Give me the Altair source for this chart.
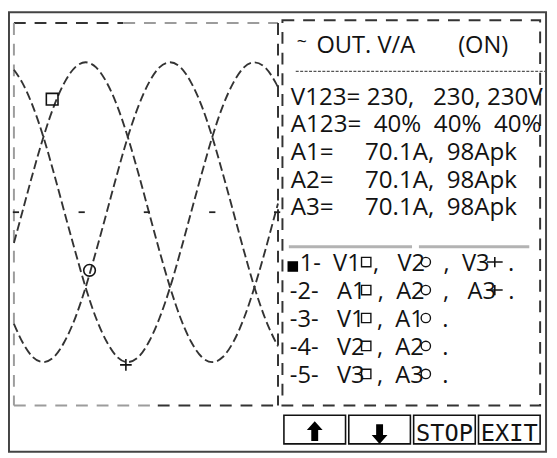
import altair as alt
import pandas as pd

# ---------------- data read from the screen ----------------
# three-phase output waveform: time (ms) and value (V) of each trace
t_ms = [-0.66, 0.0, 0.83, 1.67, 2.5, 3.33, 4.17, 5.0, 5.83, 6.67, 7.5, 8.33, 9.17, 10.0,
        10.83, 11.67, 12.5, 13.33, 14.17, 15.0, 15.83, 16.67, 17.5, 18.33, 19.17, 20.0, 20.19]
v1 = [-67, 0, 84, 163, 230, 281, 314, 325, 314, 281, 230, 163, 84, 0,
      -84, -163, -230, -281, -314, -325, -314, -281, -230, -163, -84, 0, 19]
v2 = [-242, -281, -314, -325, -314, -281, -230, -163, -84, 0, 84, 163, 230, 281,
      314, 325, 314, 281, 230, 163, 84, 0, -84, -163, -230, -281, -291]
v3 = [309, 281, 230, 163, 84, 0, -84, -163, -230, -281, -314, -325, -314, -281,
      -230, -163, -84, 0, 84, 163, 230, 281, 314, 325, 314, 281, 271]
phase_names = ["V1", "V2", "V3"]

# cursor markers on the traces
marker_phase = ["V1", "V2", "V3"]
marker_t = [2.36, 5.31, 8.18]
marker_v = [245, -126, -331]

# time-division ticks on the zero line
div_t = [-0.5, 4.69, 9.84, 15.0, 20.12]

# info panel text
title_symbol = "~"
title_text = "OUT. V/A       (ON)"
info_rows = [
    "V123= 230,   230, 230V",
    "A123=  40%  40%  40%",
    "A1=     70.1A,  98Apk",
    "A2=     70.1A,  98Apk",
    "A3=     70.1A,  98Apk",
]

# trace-selection menu
menu_rows = [
    "1-  V1  ,   V2   ,  V3   .",
    "-2-   A1  ,  A2   ,   A3  .",
    "-3-   V1  ,  A1   .",
    "-4-   V2  ,  A2   .",
    "-5-   V3  ,  A3   .",
]
menu_marker_row = [0, 0, 0, 1, 1, 1, 2, 2, 3, 3, 4, 4]
menu_marker_slot = [0, 1, 2, 0, 1, 2, 0, 1, 0, 1, 0, 1]
menu_marker_kind = ["sq", "ci", "pl", "sq", "ci", "pl", "sq", "ci", "sq", "ci", "sq", "ci"]

button_names = ["UP", "DOWN", "STOP", "EXIT"]
button_labels = ["STOP", "EXIT"]

# ---------------- tables ----------------
NB = "\u00a0"


def keep_spaces(s):
    return s.replace(" ", NB)


wave = pd.DataFrame({
    "t": t_ms * 3,
    "v": v1 + v2 + v3,
    "phase": [p for p in phase_names for _ in t_ms],
})
markers = pd.DataFrame({"phase": marker_phase, "t": marker_t, "v": marker_v})
divs = pd.DataFrame({"t": div_t, "v": [0] * len(div_t)})
info = pd.DataFrame({"row": list(range(len(info_rows))),
                     "text": [keep_spaces(s) for s in info_rows]})
menu = pd.DataFrame({"row": list(range(len(menu_rows))),
                     "text": [keep_spaces(s) for s in menu_rows]})
menu_marks = pd.DataFrame({"row": menu_marker_row, "slot": menu_marker_slot,
                           "kind": menu_marker_kind})
buttons = pd.DataFrame({"btn": button_names})
one = pd.DataFrame({"k": [0]})

FONT = "Open Sans"
INK = "#121212"

# ---------------- scales ----------------
xw = alt.Scale(domain=[-0.66, 20.19], range=[6, 274])
yw = alt.Scale(domain=[-419, 410], range=[400, 12])
PLUS = "M-1,0L1,0M0,-1L0,1"
trace_shapes = alt.Scale(domain=phase_names, range=["square", "circle", PLUS])
menu_shapes = alt.Scale(domain=["sq", "ci"], range=["square", "circle"])
slot_x = alt.Scale(domain=[0, 1, 2], range=[363.5, 424, 494])
row_y = alt.Scale(domain=[0, 4], range=[254.5, 368])
bscale = alt.Scale(type="band", domain=button_names, range=[280, 540],
                   paddingInner=0.05, paddingOuter=0)


def hrule(x1, x2, y, color, width=2, dash=None):
    kw = dict(color=color, strokeWidth=width)
    if dash:
        kw["strokeDash"] = dash
    return alt.Chart(one).mark_rule(**kw).encode(
        x=alt.value(x1), x2=alt.value(x2), y=alt.value(y))


def vrule(x, y1, y2, color, width=2, dash=None):
    kw = dict(color=color, strokeWidth=width)
    if dash:
        kw["strokeDash"] = dash
    return alt.Chart(one).mark_rule(**kw).encode(
        x=alt.value(x), y=alt.value(y1), y2=alt.value(y2))


DARK = "#333333"
GRAY = "#9c9c9c"
DASH = [12, 9]

layers = []
# outer frame
layers.append(alt.Chart(one).mark_rect(fill="transparent", stroke="#444444", strokeWidth=2).encode(
    x=alt.value(1), x2=alt.value(546), y=alt.value(1), y2=alt.value(447)))
# waveform panel frame
layers += [
    hrule(6, 117, 12, DARK, dash=DASH),
    hrule(117, 274, 12, GRAY, dash=DASH),
    vrule(6, 12, 400, GRAY, dash=DASH),
    hrule(6, 152, 400, GRAY, dash=DASH),
    hrule(152, 274, 400, DARK, dash=DASH),
    vrule(274, 12, 400, DARK, dash=DASH),
]
# info panel frame
layers.append(alt.Chart(one).mark_rect(fill="transparent", stroke=DARK, strokeWidth=2,
                                       strokeDash=DASH).encode(
    x=alt.value(278.5), x2=alt.value(540), y=alt.value(9), y2=alt.value(400)))

# traces
layers.append(alt.Chart(wave).mark_line(interpolate="monotone", strokeDash=[9, 4],
                                        strokeWidth=1.9, color="#333333").encode(
    x=alt.X("t:Q", scale=xw, axis=None),
    y=alt.Y("v:Q", scale=yw, axis=None),
    detail="phase:N"))
layers.append(alt.Chart(divs).mark_point(shape="M-1,0L1,0", size=40, color="#222222",
                                         strokeWidth=1.8, opacity=1).encode(
    x=alt.X("t:Q", scale=xw, axis=None),
    y=alt.Y("v:Q", scale=yw, axis=None)))
layers.append(alt.Chart(markers).mark_point(filled=False, color=INK, strokeWidth=1.6,
                                            size=140, opacity=1).encode(
    x=alt.X("t:Q", scale=xw, axis=None),
    y=alt.Y("v:Q", scale=yw, axis=None),
    shape=alt.Shape("phase:N", scale=trace_shapes, legend=None)))

# title
layers.append(alt.Chart(one).mark_text(text=title_symbol, font=FONT, fontSize=18, align="left",
                                       baseline="alphabetic", color=INK).encode(
    x=alt.value(293), y=alt.value(37)))
layers.append(alt.Chart(one).mark_text(text=keep_spaces(title_text), font=FONT, fontSize=24,
                                       align="left", baseline="alphabetic", color=INK).encode(
    x=alt.value(313), y=alt.value(42)))
layers.append(hrule(292, 545, 61, "#555555", width=1.2, dash=[3, 1.5]))

# measurement rows
layers.append(alt.Chart(info).mark_text(font=FONT, fontSize=24.5, align="left",
                                        baseline="alphabetic", color=INK).encode(
    x=alt.value(287),
    y=alt.Y("row:Q", scale=alt.Scale(domain=[0, 4], range=[95, 207]), axis=None),
    text="text:N"))

# menu separator
layers += [hrule(285, 410, 239, "#b3b3b3", width=3), hrule(417, 529, 239, "#b3b3b3", width=3)]

# menu rows
menu_y = alt.Scale(domain=[0, 4], range=[264, 377])
layers.append(alt.Chart(menu).transform_filter("datum.row == 0").mark_text(
    font=FONT, fontSize=24, align="left", baseline="alphabetic", color=INK).encode(
    x=alt.value(296), y=alt.Y("row:Q", scale=menu_y, axis=None), text="text:N"))
layers.append(alt.Chart(menu).transform_filter("datum.row > 0").mark_text(
    font=FONT, fontSize=24, align="left", baseline="alphabetic", color=INK).encode(
    x=alt.value(286), y=alt.Y("row:Q", scale=menu_y, axis=None), text="text:N"))
layers.append(alt.Chart(one).mark_point(shape="square", filled=True, size=115, color="#000000",
                                        opacity=1).encode(
    x=alt.value(289), y=alt.value(259)))
layers.append(alt.Chart(menu_marks).transform_filter("datum.kind != 'pl'").mark_point(
    filled=False, color=INK, strokeWidth=1.4, size=90, opacity=1).encode(
    x=alt.X("slot:Q", scale=slot_x, axis=None),
    y=alt.Y("row:Q", scale=row_y, axis=None),
    shape=alt.Shape("kind:N", scale=menu_shapes, legend=None)))
layers.append(alt.Chart(menu_marks).transform_filter("datum.kind == 'pl'").mark_point(
    shape="M-1,0L1,0M0,-0.65L0,0.65", filled=False, color=INK, strokeWidth=1.6,
    size=256, opacity=1).encode(
    x=alt.X("slot:Q", scale=slot_x, axis=None),
    y=alt.Y("row:Q", scale=row_y, axis=None)))

# soft-key buttons
layers.append(alt.Chart(buttons).mark_rect(fill="white", stroke="#111111", strokeWidth=1.6).encode(
    x=alt.X("btn:N", scale=bscale, axis=None),
    y=alt.value(410), y2=alt.value(439)))
layers.append(alt.Chart(buttons).transform_filter(
    alt.FieldOneOfPredicate(field="btn", oneOf=button_labels)).mark_text(
    font="DejaVu Sans Mono", fontSize=24, baseline="alphabetic", align="center", color=INK).encode(
    x=alt.X("btn:N", scale=bscale, axis=None), y=alt.value(436), text="btn:N"))
layers.append(alt.Chart(buttons).transform_filter("datum.btn == 'UP'").mark_point(
    shape="M0,-1L0.8,-0.1L0.35,-0.1L0.35,1L-0.35,1L-0.35,-0.1L-0.8,-0.1Z",
    filled=True, size=400, color="#000000", opacity=1).encode(
    x=alt.X("btn:N", scale=bscale, axis=None), y=alt.value(426)))
layers.append(alt.Chart(buttons).transform_filter("datum.btn == 'DOWN'").mark_point(
    shape="M0,1L0.8,0.1L0.35,0.1L0.35,-1L-0.35,-1L-0.35,0.1L-0.8,0.1Z",
    filled=True, size=400, color="#000000", opacity=1).encode(
    x=alt.X("btn:N", scale=bscale, axis=None), y=alt.value(429)))

chart = alt.layer(*layers).resolve_scale(
    x="independent", y="independent", shape="independent"
).properties(
    width=549, height=450, padding=0,
    autosize=alt.AutoSizeParams(type="none"), background="white"
).configure_view(strokeWidth=0)

chart.save("out.html", embed_options={"renderer": "svg", "actions": False})
